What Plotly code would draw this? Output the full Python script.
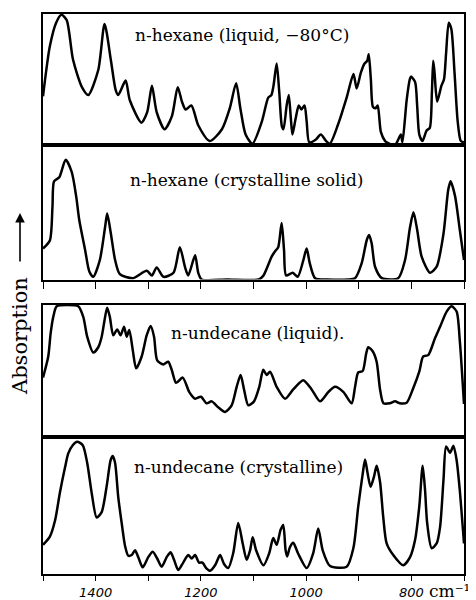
import plotly.graph_objects as go

# page body adds an 8px margin, so the figure is 8px smaller than the window
OFF = 8
W, H = 476 - OFF, 600 - OFF

# ---------------- data (wavenumber cm^-1, relative absorption 0..1) ----------------
hex_liq_wn = [1500, 1487, 1475, 1465, 1455, 1443, 1426, 1414, 1395, 1383, 1371, 1362, 1357,
              1343, 1335, 1313, 1302, 1293, 1284, 1269, 1255, 1244, 1236, 1229, 1218, 1205,
              1183, 1160, 1145, 1133, 1125, 1115, 1102, 1084, 1072, 1066, 1062, 1056, 1051,
              1046, 1043, 1037, 1033, 1029, 1026, 1020, 1014, 1009, 1003, 999, 994, 982,
              972, 962, 955, 939, 923, 910, 904, 896, 889, 884, 881, 877, 873, 868, 864,
              858, 850, 847, 835, 829, 820, 817, 809, 803, 801, 793, 789, 785, 779, 771,
              765, 761, 758.5, 756, 751, 743, 738, 734, 729, 724, 718, 712, 706, 700]
hex_liq_ab = [0.37, 0.75, 0.93, 0.99, 0.95, 0.65, 0.44, 0.38, 0.57, 0.92, 0.645, 0.42, 0.38,
              0.49, 0.34, 0.17, 0.25, 0.45, 0.25, 0.12, 0.22, 0.44, 0.33, 0.27, 0.30, 0.15,
              0.03, 0.12, 0.28, 0.47, 0.28, 0.08, 0.01, 0.18, 0.36, 0.38, 0.45, 0.62, 0.40,
              0.14, 0.12, 0.30, 0.38, 0.20, 0.08, 0.20, 0.30, 0.27, 0.30, 0.18, 0.02, 0.04,
              0.08, 0.03, 0.01, 0.16, 0.36, 0.54, 0.43, 0.55, 0.62, 0.64, 0.69, 0.50, 0.29,
              0.28, 0.30, 0.10, 0.03, 0.02, 0.00, 0.01, 0.08, 0.02, 0.34, 0.50, 0.52, 0.48,
              0.30, 0.08, 0.03, 0.11, 0.13, 0.40, 0.64, 0.55, 0.33, 0.45, 0.50, 0.70, 0.93,
              0.88, 0.55, 0.18, 0.03, 0.02]

hex_cry_wn = [1500, 1487, 1482, 1479, 1469, 1457, 1445.5, 1437, 1431, 1420, 1412, 1404.5,
              1392, 1382, 1378, 1371, 1363, 1354, 1329, 1303, 1293, 1284, 1271, 1252, 1240,
              1230, 1224, 1211, 1205, 1198.5, 1150, 1090, 1081, 1065.5, 1059, 1053, 1046.5,
              1042, 1038, 1025.5, 1016, 1005.5, 999, 993, 983, 960, 920, 907, 894.5, 885,
              880.5, 875.5, 869, 856, 825, 812, 802.5, 796, 789, 780.5, 764.5, 752, 739,
              730, 725.5, 717, 708, 700]
hex_cry_ab = [0.23, 0.29, 0.54, 0.73, 0.76, 0.89, 0.80, 0.62, 0.44, 0.22, 0.06, 0.02,
              0.145, 0.39, 0.49, 0.34, 0.145, 0.04, 0.01, 0.065, 0.03, 0.09, 0.02, 0.05, 0.24,
              0.09, 0.03, 0.18, 0.05, 0.00, 0.00, 0.00, 0.03, 0.17, 0.21, 0.24, 0.42,
              0.22, 0.03, 0.05, 0.02, 0.14, 0.23, 0.12, 0.01, 0.00, 0.00, 0.01, 0.12, 0.29,
              0.33, 0.27, 0.095, 0.01, 0.01, 0.145, 0.39, 0.50, 0.37, 0.17, 0.05, 0.095, 0.34,
              0.665, 0.73, 0.62, 0.37, 0.145]

und_liq_wn = [1500, 1490, 1485.5, 1480.5, 1474, 1455, 1433, 1423.5, 1416, 1404.5, 1395,
              1388.5, 1382, 1378, 1373, 1366.5, 1359, 1352.5, 1346, 1341, 1336, 1329.5,
              1323, 1312.5, 1303, 1295.5, 1289, 1283, 1271.5, 1262, 1255.5, 1247, 1234.5,
              1222, 1211, 1200, 1189, 1179.5, 1167, 1154, 1141.5, 1132, 1124.5, 1118, 1110,
              1099, 1089, 1081.5, 1075, 1068.5, 1056, 1040, 1024.5, 1005.5, 989.5, 973.5,
              958, 945, 929, 913.5, 907, 901, 892.5, 886, 882, 873.5, 866, 859.5, 853, 841,
              831, 822, 809, 796.5, 785, 777.5, 768, 755, 745.5, 733, 723.5, 714, 708,
              702.5, 700]
und_liq_ab = [0.45, 0.61, 0.785, 0.91, 0.99, 1.0, 0.99, 0.91, 0.76, 0.64, 0.68,
              0.76, 0.91, 0.98, 0.91, 0.77, 0.815, 0.77, 0.835, 0.76, 0.81, 0.66,
              0.52, 0.61, 0.77, 0.84, 0.76, 0.58, 0.55, 0.57, 0.51, 0.41, 0.45,
              0.34, 0.29, 0.305, 0.255, 0.27, 0.225, 0.19, 0.24, 0.38, 0.47, 0.36, 0.24,
              0.27, 0.38, 0.51, 0.47, 0.495, 0.38, 0.29, 0.36, 0.43, 0.36, 0.27,
              0.34, 0.38, 0.34, 0.255, 0.38, 0.49, 0.50, 0.63, 0.68, 0.65, 0.57, 0.36, 0.255,
              0.255, 0.27, 0.255, 0.26, 0.37, 0.495, 0.61, 0.62, 0.75, 0.835, 0.95, 0.99, 0.95,
              0.73, 0.41, 0.25]

und_cry_wn = [1500, 1487, 1477, 1468, 1458, 1452, 1443.5, 1435, 1424.5, 1416, 1407.5, 1398,
              1388.5, 1379, 1371.5, 1367.5, 1363, 1357, 1350.5, 1344, 1338, 1331.5, 1325,
              1319, 1310.5, 1300, 1291.5, 1283, 1274.5, 1265, 1257.5, 1251, 1243, 1233.5,
              1224, 1217.5, 1211, 1203.5, 1197, 1190, 1182.5, 1173, 1163.5, 1156, 1148,
              1138.5, 1129, 1120.5, 1113, 1106.5, 1101.5, 1095, 1081, 1070, 1062.5, 1056,
              1048.5, 1043.5, 1039, 1036, 1031, 1024.5, 1015, 999, 986.5, 977, 968.5, 954.5,
              923, 910, 901, 892.5, 888, 883, 877.5, 871, 866, 859.5, 853.5, 847, 834.5,
              815.5, 802.5, 793, 785, 778.5, 774, 770, 761.5, 752, 745.5, 739, 734, 726.5,
              720, 714, 708, 701.5, 700]
und_cry_ab = [0.21, 0.27, 0.39, 0.59, 0.78, 0.88, 0.94, 0.965, 0.94, 0.81, 0.59, 0.41,
              0.45, 0.64, 0.83, 0.86, 0.81, 0.56, 0.37, 0.20, 0.13, 0.135, 0.17,
              0.12, 0.045, 0.12, 0.16, 0.11, 0.05, 0.12, 0.155, 0.10, 0.025, 0.08,
              0.135, 0.11, 0.135, 0.08, 0.08, 0.04, 0.02, 0.06, 0.135, 0.07, 0.04,
              0.15, 0.37, 0.22, 0.10, 0.17, 0.265, 0.17, 0.06, 0.15, 0.26, 0.21,
              0.32, 0.355, 0.17, 0.125, 0.19, 0.225, 0.145, 0.04, 0.15, 0.33, 0.17, 0.055,
              0.05, 0.19, 0.49, 0.73, 0.835, 0.73, 0.635, 0.71, 0.79, 0.67, 0.415, 0.22, 0.135,
              0.06, 0.12, 0.245, 0.49, 0.79, 0.61, 0.37, 0.185, 0.22, 0.34, 0.685, 0.93, 0.885,
              0.935, 0.83, 0.61, 0.295, 0.22]

panel_labels = ["n-hexane (liquid, \u221280\u00b0C)", "n-hexane (crystalline solid)",
                "n-undecane (liquid).", "n-undecane (crystalline)"]
tick_vals = [1500, 1400, 1300, 1200, 1100, 1000, 900, 800, 700]
tick_text = ["", "1400", "", "1200", "", "1000", "", "800", ""]
unit_label = "cm\u207b\u00b9"

# ---------------- layout helpers (window pixel -> paper) ----------------
def fx(px):
    return (px - OFF) / W

def fy(py):
    return 1 - (py - OFF) / H

x_dom = [fx(43), fx(464)]
panels_px = [(13.5, 145), (145, 279.5), (305, 437), (437, 573.5)]
label_pos = [(242, 35), (246, 180), (257, 333), (238, 467)]

series = [(hex_liq_wn, hex_liq_ab), (hex_cry_wn, hex_cry_ab),
          (und_liq_wn, und_liq_ab), (und_cry_wn, und_cry_ab)]

fig = go.Figure()
layout = dict(width=W, height=H, margin=dict(l=0, r=0, t=0, b=0),
              paper_bgcolor="white", plot_bgcolor="white", showlegend=False)

serif = "DejaVu Serif"
annotations = []
for i, ((wn, ab), (top, bot)) in enumerate(zip(series, panels_px)):
    n = i + 1
    xa = "x" if n == 1 else f"x{n}"
    ya = "y" if n == 1 else f"y{n}"
    fig.add_trace(go.Scatter(x=wn, y=ab, xaxis=xa, yaxis=ya, mode="lines",
                             line=dict(color="black", width=2.5, shape="spline", smoothing=0.7),
                             hoverinfo="skip"))
    xkey = "xaxis" if n == 1 else f"xaxis{n}"
    ykey = "yaxis" if n == 1 else f"yaxis{n}"
    xdef = dict(domain=x_dom, range=[1500, 700], anchor=ya, showgrid=False, zeroline=False,
                showline=True, mirror=True, linecolor="black", linewidth=1.6,
                tickvals=tick_vals, automargin=False)
    if n == 2:
        xdef.update(ticks="outside", ticklen=8, tickwidth=1.3, tickcolor="black",
                    showticklabels=False)
    elif n == 4:
        xdef.update(ticks="outside", ticklen=6, tickwidth=1.3, tickcolor="black",
                    ticktext=tick_text, showticklabels=True,
                    tickfont=dict(family="DejaVu Sans", size=13, color="black", style="italic"))
    else:
        xdef.update(ticks="", showticklabels=False)
    if n != 1:
        xdef["matches"] = "x"
    layout[xkey] = xdef
    layout[ykey] = dict(domain=[fy(bot), fy(top)], range=[0, 1.0], anchor=xa,
                        showgrid=False, zeroline=False, showticklabels=False, ticks="",
                        showline=True, mirror=True, linecolor="black", linewidth=1.6,
                        automargin=False)
    lx, ly = label_pos[i]
    annotations.append(dict(x=fx(lx), y=fy(ly), xref="paper", yref="paper",
                            text=panel_labels[i], showarrow=False,
                            font=dict(family=serif, size=17, color="black"),
                            xanchor="center", yanchor="middle"))

annotations.append(dict(x=fx(20), y=fy(336), xref="paper", yref="paper", text="Absorption",
                        textangle=-90, showarrow=False,
                        font=dict(family=serif, size=21, color="black"),
                        xanchor="center", yanchor="middle"))
annotations.append(dict(x=fx(20), y=fy(213), xref="paper", yref="paper", text="",
                        showarrow=True, ax=0, ay=50, arrowhead=2, arrowsize=1.2,
                        arrowwidth=1.6, arrowcolor="black"))
annotations.append(dict(x=fx(472), y=fy(591), xref="paper", yref="paper",
                        text=unit_label, showarrow=False,
                        font=dict(family=serif, size=17, color="black"),
                        xanchor="right", yanchor="middle"))
layout["annotations"] = annotations
fig.update_layout(**layout)
fig.write_html("out.html")
